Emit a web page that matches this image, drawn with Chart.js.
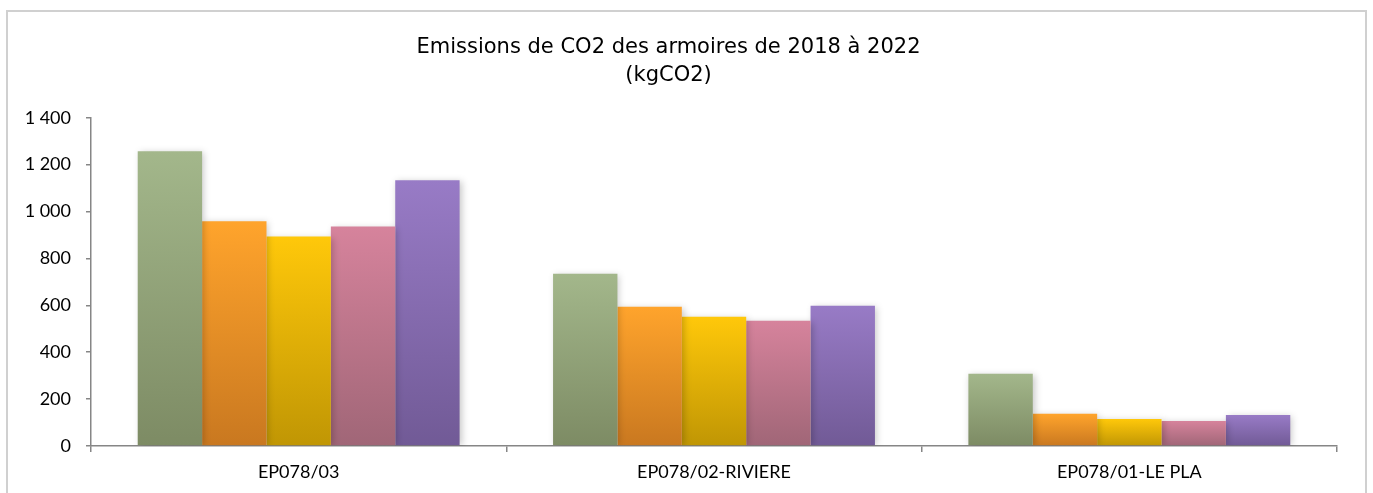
<!DOCTYPE html>
<html>
<head>
<meta charset="utf-8">
<script src="https://cdn.jsdelivr.net/npm/chart.js@4/dist/chart.umd.min.js"></script>
<style>
  html, body { margin: 0; padding: 0; background: #ffffff; }
  #wrap { position: relative; width: 1373px; height: 493px; }
</style>
</head>
<body>
<div id="wrap"><canvas id="c" width="1373" height="493"></canvas></div>
<script>
const categories = ['EP078/03', 'EP078/02-RIVIERE', 'EP078/01-LE PLA'];
const seriesNames = ['2018', '2019', '2020', '2021', '2022'];
const values2018 = [1257, 735, 308];
const values2019 = [958, 594, 137];
const values2020 = [893, 551, 115];
const values2021 = [936, 534, 107];
const values2022 = [1133, 598, 132];
const yTickValues = [0, 200, 400, 600, 800, 1000, 1200, 1400];
const yTickLabels = ['0', '200', '400', '600', '800', '1 000', '1 200', '1 400'];
const titleLines = ['Emissions de CO2 des armoires de 2018 à 2022', '(kgCO2)'];

const seriesValues = [values2018, values2019, values2020, values2021, values2022];
const gradientStops = [
  ['#a3b78b', '#7d8b64'],
  ['#ffa42c', '#c97820'],
  ['#ffc80a', '#c09604'],
  ['#d6839c', '#a06677'],
  ['#987bc6', '#715a96']
];

function barGradient(i) {
  return function (ctx) {
    const chart = ctx.chart;
    const y = chart.scales.y;
    if (!y || ctx.raw === undefined) return gradientStops[i][0];
    const top = y.getPixelForValue(ctx.raw);
    const bottom = y.getPixelForValue(0);
    if (!isFinite(top) || !isFinite(bottom) || top === bottom) return gradientStops[i][0];
    const g = chart.ctx.createLinearGradient(0, top, 0, bottom);
    g.addColorStop(0, gradientStops[i][0]);
    g.addColorStop(1, gradientStops[i][1]);
    return g;
  };
}

const frame = {
  id: 'frame',
  beforeDraw(chart) {
    const c = chart.ctx;
    c.save();
    c.fillStyle = '#ffffff';
    c.fillRect(0, 0, chart.width, chart.height);
    c.strokeStyle = '#d0d0d0';
    c.lineWidth = 2;
    c.strokeRect(7, 11, 1359, 520);
    c.restore();
  }
};

const shadow = {
  id: 'shadow',
  beforeDatasetsDraw(chart) {
    const c = chart.ctx;
    c.save();
    c.shadowColor = 'rgba(0,0,0,0.22)';
    c.shadowBlur = 7;
    c.shadowOffsetX = 2;
    c.shadowOffsetY = 1;
  },
  afterDatasetsDraw(chart) {
    chart.ctx.restore();
  }
};

new Chart(document.getElementById('c'), {
  type: 'bar',
  data: {
    labels: categories,
    datasets: seriesValues.map((vals, i) => ({
      label: seriesNames[i],
      data: vals,
      backgroundColor: barGradient(i),
      borderWidth: 0,
      barPercentage: 1.0,
      categoryPercentage: 0.775
    }))
  },
  options: {
    responsive: false,
    animation: false,
    layout: { padding: { left: 0, right: 36, top: 0, bottom: 0 } },
    plugins: {
      legend: { display: false },
      tooltip: { enabled: false },
      title: {
        display: true,
        text: titleLines,
        color: '#000000',
        font: { family: 'DejaVu Sans', size: 21, weight: 'normal', lineHeight: 1.35 },
        padding: { top: 33, bottom: 28 }
      }
    },
    scales: {
      x: {
        grid: {
          display: true,
          drawOnChartArea: false,
          drawTicks: true,
          tickLength: 6,
          color: '#868686',
          lineWidth: 1.5,
          offset: true
        },
        border: { display: true, color: '#868686', width: 1.5 },
        ticks: {
          color: '#000000',
          font: { family: 'Lato', size: 18 },
          padding: 9,
          maxRotation: 0
        },
        afterFit(scale) { scale.height = 47; }
      },
      y: {
        min: 0,
        max: 1400,
        afterBuildTicks(scale) { scale.ticks = yTickValues.map(v => ({ value: v })); },
        grid: {
          display: true,
          drawOnChartArea: false,
          drawTicks: true,
          tickLength: 5,
          color: '#868686',
          lineWidth: 1.5
        },
        border: { display: true, color: '#868686', width: 1.5 },
        ticks: {
          color: '#000000',
          font: { family: 'Lato', size: 18 },
          padding: 15,
          callback(value) {
            const k = yTickValues.indexOf(value);
            return k >= 0 ? yTickLabels[k] : '';
          }
        },
        afterFit(scale) { scale.width = 91; }
      }
    }
  },
  plugins: [frame, shadow]
});
</script>
</body>
</html>
